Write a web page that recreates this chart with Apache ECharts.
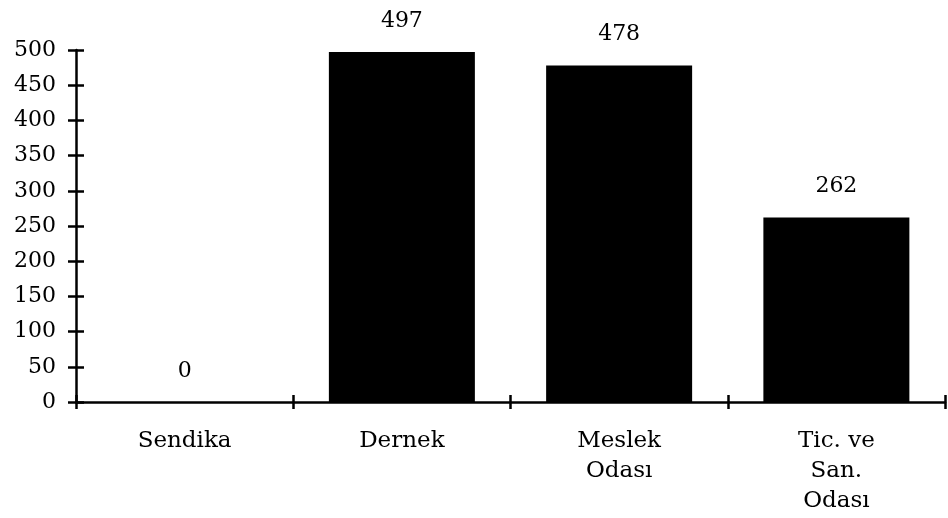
<!DOCTYPE html>
<html>
<head>
    <meta charset="UTF-8">
    <title>Kuruluş türü</title>
    <script src="https://cdn.jsdelivr.net/npm/echarts@6/dist/echarts.min.js"></script>
    <style>
        body { margin: 0; background: #fff; }
        #chart { width: 948px; height: 518px; }
    </style>
</head>
<body>
<div id="chart"></div>
<script type="text/javascript">
    var categories = ['Sendika', 'Dernek', 'Meslek\nOdası', 'Tic. ve\nSan.\nOdası'];
    var counts = [0, 497, 478, 262];
    var yTicks = [0, 50, 100, 150, 200, 250, 300, 350, 400, 450, 500];

    var font = 'DejaVu Serif';
    var chart = echarts.init(document.getElementById('chart'));

    var option = {
        animation: false,
        grid: { left: 76, right: 3, top: 50, bottom: 116 },
        xAxis: [{
            type: 'category',
            data: categories,
            axisLine: { lineStyle: { color: '#000', width: 2.5 } },
            axisTick: { show: true, length: 7, lineStyle: { color: '#000', width: 2.5 } },
            axisLabel: {
                color: '#000', fontFamily: font, fontSize: 23,
                margin: 24, lineHeight: 30
            }
        }, {
            type: 'category',
            data: categories,
            position: 'bottom',
            axisLine: { show: false },
            axisTick: { show: true, inside: true, length: 7, lineStyle: { color: '#000', width: 2.5 } },
            axisLabel: { show: false }
        }],
        yAxis: [{
            type: 'value',
            min: yTicks[0],
            max: yTicks[yTicks.length - 1],
            interval: 50,
            splitLine: { show: false },
            axisLine: { show: true, lineStyle: { color: '#000', width: 2.5 } },
            axisTick: { show: true, length: 8, lineStyle: { color: '#000', width: 2.5 } },
            axisLabel: { color: '#000', fontFamily: font, fontSize: 22, margin: 20 }
        }, {
            type: 'value',
            min: yTicks[0],
            max: yTicks[yTicks.length - 1],
            interval: 50,
            position: 'left',
            splitLine: { show: false },
            axisLine: { show: false },
            axisTick: { show: true, inside: true, length: 8, lineStyle: { color: '#000', width: 2.5 } },
            axisLabel: { show: false }
        }],
        series: [{
            type: 'bar',
            data: counts,
            barWidth: 146,
            itemStyle: { color: '#000' },
            label: {
                show: true,
                position: 'top',
                distance: 20,
                color: '#000',
                fontFamily: font,
                fontSize: 22
            }
        }]
    };
    chart.setOption(option);
</script>
</body>
</html>
